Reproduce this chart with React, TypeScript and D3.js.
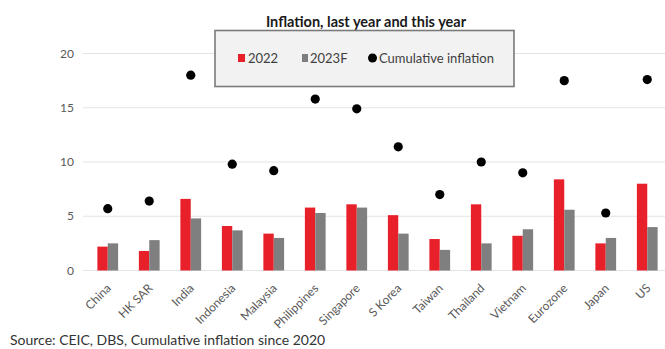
import React from "react";
import * as d3 from "d3";

const categories = ["China", "HK SAR", "India", "Indonesia", "Malaysia", "Philippines", "Singapore", "S Korea", "Taiwan", "Thailand", "Vietnam", "Eurozone", "Japan", "US"];
const v2022 = [2.2, 1.8, 6.6, 4.1, 3.4, 5.8, 6.1, 5.1, 2.9, 6.1, 3.2, 8.4, 2.5, 8.0];
const v2023F = [2.5, 2.8, 4.8, 3.7, 3.0, 5.3, 5.8, 3.4, 1.9, 2.5, 3.8, 5.6, 3.0, 4.0];
const cumulative = [5.7, 6.4, 18.0, 9.8, 9.2, 15.8, 14.9, 11.4, 7.0, 10.0, 9.0, 17.5, 5.3, 17.6];
const yTicks = [0, 5, 10, 15, 20];
const title = "Inflation, last year and this year";
const source = "Source: CEIC, DBS, Cumulative inflation since 2020";

const RED = "#e8202a";
const GREY = "#7f7f7f";
const FONT = "Lato, 'Open Sans', sans-serif";

export default function App() {
  const W = 665, H = 349;
  const x = d3.scaleBand<string>().domain(categories).range([87, 668]).paddingInner(0.5).paddingOuter(0.25);
  const y = d3.scaleLinear().domain([0, 20]).range([270.5, 53.5]);
  const bw = x.bandwidth() / 2;

  return (
    <svg width={W} height={H} style={{ position: "absolute", left: 0, top: 0, background: "#fff" }} fontFamily={FONT}>
      {yTicks.map((t) => (
        <g key={t}>
          {t > 0 && <line x1={83} x2={665} y1={y(t)} y2={y(t)} stroke="#e3e3e3" strokeWidth={1} />}
          <text x={74} y={y(t)} dy="0.35em" textAnchor="end" fontSize={12} fill="#595959">{t}</text>
        </g>
      ))}
      <line x1={83} x2={665} y1={y(0)} y2={y(0)} stroke="#e3e3e3" strokeWidth={1} />
      {categories.map((c, i) => {
        const x0 = x(c)!;
        return (
          <g key={c}>
            <rect x={x0} y={y(v2022[i])} width={bw} height={y(0) - y(v2022[i])} fill={RED} />
            <rect x={x0 + bw} y={y(v2023F[i])} width={bw} height={y(0) - y(v2023F[i])} fill={GREY} />
            <circle cx={x0 + bw} cy={y(cumulative[i])} r={4.6} fill="#000" />
            <text transform={`translate(${x0 + bw + 4},${289}) rotate(-45)`} textAnchor="end" fontSize={12} fill="#595959">{c}</text>
          </g>
        );
      })}
      <text x={366} y={27} textAnchor="middle" fontSize={14.5} fontWeight="bold" fill="#1a1a1a">{title}</text>
      <g>
        <rect x={215} y={30.5} width={299} height={56} fill="#f2f2f2" stroke="#7a7a7a" strokeWidth={1.6} />
        <rect x={238} y={54} width={7} height={8} fill={RED} />
        <text x={248} y={62.5} fontSize={13} fill="#404040">2022</text>
        <rect x={302} y={54} width={6} height={8} fill={GREY} />
        <text x={310} y={62.5} fontSize={13} fill="#404040">2023F</text>
        <circle cx={372.5} cy={58} r={4.5} fill="#000" />
        <text x={379} y={62.5} fontSize={13} fill="#404040">Cumulative inflation</text>
      </g>
      <text x={10} y={345} fontSize={14} fill="#333">{source}</text>
    </svg>
  );
}
